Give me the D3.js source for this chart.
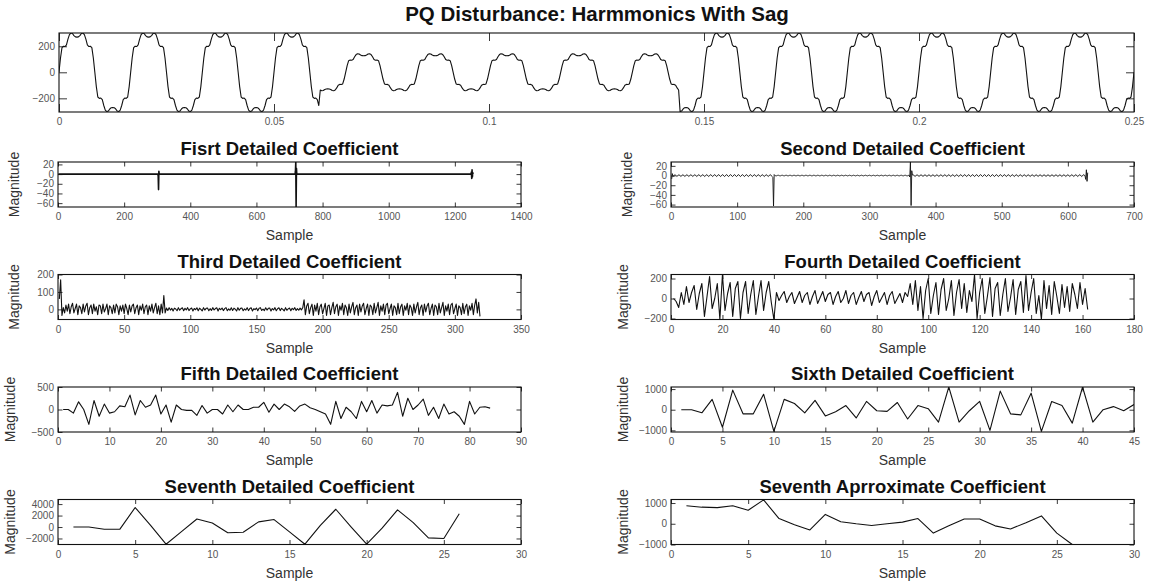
<!DOCTYPE html>
<html>
<head>
<meta charset="utf-8">
<script src="https://cdn.jsdelivr.net/npm/d3@7/dist/d3.min.js"></script>
<style>
  html, body { margin: 0; padding: 0; background: #fff; }
  svg { display: block; font-family: "Liberation Sans", Arial, Helvetica, sans-serif; }
</style>
</head>
<body>
<script>
// ---------------- DATA ----------------
// Top signal: one half-cycle of the harmonic waveform (every 7.5 deg), 60 Hz
const waveHalfCycle = [0,110,190,200,198,210,255,290,302,298,282,272,270,272,282,298,302,290,255,210,198,200,190,110];
const waveFrequency = 60;          // Hz
const waveDuration = 0.25;         // s
const sagWindow = [0.0605, 0.1443];// s
const sagRetained = 0.47;          // fraction of amplitude during sag
const topXTicks = [0, 0.05, 0.1, 0.15, 0.2, 0.25];
const topXTickLabels = ["0", "0.05", "0.1", "0.15", "0.2", "0.25"];
const topYTicks = [-200, 0, 200];

// D1: essentially zero except transients (sample, value)
const d1Points = [[1,0],[302,0],[303,-4],[304,-32],[305,6],[306,0],[717,0],[718,6],[719,25],[720,-68],[721,12],[722,0],[1249,0],[1250,4],[1251,-9],[1252,9],[1253,-6],[1254,3],[1255,0]];
// D2: small ripple (read pattern), transients
const d2RipplePattern = [2,1,-1,-2,-1,1];
const d2Length = 630;
const d2SagRange = [155, 362];
const d2SagRipple = 0.35;
const d2Transients = [[1,-7],[2,4],[154,-4],[155,-63],[156,2],[361,-3],[362,28],[363,-62],[364,10],[627,-8],[628,12],[629,-12],[630,6]];

// D3
const d3Values = [60,170,-35,10,-20,25,-10,30,-25,15,35,-20,5,30,-30,20,10,-25,30,-15,20,35,-30,10,25,-25,30,-10,15,-30,25,20,-25,30,-15,5,30,-30,20,10,-25,25,-20,30,15,-30,20,-10,25,-25,30,5,-30,25,-15,20,30,-25,10,25,-30,20,-5,30,-25,15,25,-30,20,-10,30,-20,10,35,-25,20,-30,30,-20,
80,-20,
8,-6,10,-4,6,-9,7,2,-8,10,-5,4,9,-8,6,-3,10,-7,3,8,-9,5,-2,9,-8,7,0,-9,10,-4,6,8,-8,4,-6,10,-3,5,9,-9,6,-2,8,-7,4,10,-8,3,-5,9,-6,7,1,-9,10,-5,6,8,-8,3,-4,10,-7,5,9,-9,4,-1,8,-8,7,10,-6,2,-7,9,-4,6,8,-9,5,-3,10,-8,4,9,-7,6,0,-9,10,-5,3,8,-8,6,-2,10,-6,4,-5,7,-3,9,
55,-30,
20,35,-25,10,30,-35,25,-10,35,-30,15,30,-25,5,35,-35,20,25,-30,10,40,-25,15,30,-35,20,-5,35,-30,25,10,-35,30,-20,15,40,-30,10,25,-35,30,-15,20,35,-30,5,30,-35,25,15,-30,35,-20,10,40,-35,20,-10,30,-30,25,35,-25,5,30,-35,20,10,-30,35,-25,15,30,-35,20,-5,35,-30,25,10,-35,30,-20,15,40,-30,10,25,-35,30,-15,20,35,-30,5,30,-35,25,15,-30,35,-20,10,40,-35,20,-10,30,-30,25,35,-25,5,30,-35,20,10,-30,35,-25,15,30,-35,20,-5,35,-30,25,60,-20,40,-40];

// D4
const d4Values = [0,-30,-90,60,-60,120,-40,60,130,-110,50,150,-180,20,220,-100,0,150,-210,240,-120,50,160,-180,100,170,-200,60,170,-150,40,180,-160,20,180,-120,60,170,-40,-210,
60,-20,30,70,-40,20,60,-50,10,70,-40,30,60,-60,20,80,-50,10,70,-30,40,60,-60,20,70,-40,0,80,-50,30,60,-60,10,70,-30,40,60,-70,20,80,-40,10,60,-60,30,70,-50,0,50,-40,60,20,
150,-60,180,-120,120,-200,80,200,-150,30,160,-160,90,200,-120,0,180,-170,60,190,-100,150,-140,80,-30,240,-200,60,200,-150,20,210,-180,100,160,-170,40,200,-130,10,190,-160,90,170,-140,230,-120,60,200,-150,30,-210,180,-100,130,-160,170,20,-150,140,-90,120,-130,150,40,-100,160,-60,100,-110];

// D5
const d5Values = [0,0,-80,170,0,-330,200,-150,120,-80,-50,80,60,320,-120,200,50,100,320,-100,100,-280,100,0,-20,-20,-130,90,-80,0,0,-100,100,-50,100,0,0,50,50,160,-60,120,0,120,60,-40,80,120,40,0,-50,-100,-330,180,-200,50,-50,-200,180,-50,200,-80,100,80,100,380,-150,250,0,100,230,-130,50,-200,120,-100,-50,-150,-330,180,-100,50,60,30];
// D6
const d6Values = [0,0,-150,500,-850,950,-200,-200,750,-1050,500,300,-150,450,-300,-100,200,-400,400,-50,-80,350,-450,200,50,-600,1100,-600,-50,400,-1000,900,-200,-250,800,-1050,400,200,-650,1100,-600,0,150,-50,250];
// D7
const d7Values = [0,0,-400,-400,3400,300,-3000,-800,1400,700,-1000,-900,900,1300,-850,-3000,300,3100,0,-3000,-200,3000,800,-1900,-2000,2300];
// A7
const a7Values = [870,800,780,870,650,1150,250,-50,-300,450,100,0,-80,0,80,250,-450,-100,230,230,-100,-250,50,380,-450,-1000];

const titles = ["Fisrt Detailed Coefficient","Second Detailed Coefficient","Third Detailed Coefficient","Fourth Detailed Coefficient","Fifth Detailed Coefficient","Sixth Detailed Coefficient","Seventh Detailed Coefficient","Seventh Aprroximate Coefficient"];

// ---------------- BUILD SERIES ----------------
const perCycle = waveHalfCycle.length * 2;
const waveCycle = waveHalfCycle.concat(waveHalfCycle.map(v => -v));
const nTop = Math.round(waveDuration * waveFrequency * perCycle);
const topSeries = [];
for (let i = 0; i <= nTop; i++) {
  const t = i / (waveFrequency * perCycle);
  const base = waveCycle[i % perCycle];
  const k = (t >= sagWindow[0] && t < sagWindow[1]) ? sagRetained : 1;
  topSeries.push([t, base * k]);
}
const d2Series = [];
const trMap = new Map(d2Transients);
for (let i = 1; i <= d2Length; i++) {
  let v = d2RipplePattern[i % d2RipplePattern.length];
  if (i > d2SagRange[0] && i < d2SagRange[1]) v *= d2SagRipple;
  if (trMap.has(i)) v = trMap.get(i);
  d2Series.push([i, v]);
}
const idx = arr => arr.map((v, i) => [i + 1, v]);

// ---------------- DRAW ----------------
const W = 1154, H = 587;
const svg = d3.select("body").append("svg").attr("width", W).attr("height", H);
let clipId = 0;

function panel(o) {
  const g = svg.append("g");
  const x = d3.scaleLinear().domain(o.xDomain).range([o.x0, o.x1]);
  const y = d3.scaleLinear().domain(o.yDomain).range([o.y1, o.y0]);
  const tl = o.tickLen || 4.5;
  const cid = "clip" + (clipId++);
  svg.append("clipPath").attr("id", cid).append("rect")
    .attr("x", o.x0).attr("y", o.y0).attr("width", o.x1 - o.x0).attr("height", o.y1 - o.y0);

  const styleAxis = sel => {
    sel.select(".domain").remove();
    sel.selectAll(".tick line").attr("stroke", "#222").attr("stroke-width", 0.9);
    sel.selectAll(".tick text").attr("fill", "#555").style("font-size", "10px")
      .style("font-family", '"Liberation Sans", Arial, sans-serif');
  };
  const fmt = o.xFmt ? ((d, i) => o.xFmt[i]) : d3.format("d");
  g.append("g").attr("transform", `translate(0,${o.y1})`)
    .call(d3.axisBottom(x).tickValues(o.xTicks).tickSize(-tl).tickPadding(6).tickFormat(fmt)).call(styleAxis);
  g.append("g").attr("transform", `translate(0,${o.y0})`)
    .call(d3.axisTop(x).tickValues(o.xTicks).tickSize(-tl).tickFormat("")).call(styleAxis);
  const yAx = g.append("g").attr("transform", `translate(${o.x0},0)`)
    .call(d3.axisLeft(y).tickValues(o.yTicks).tickSize(-tl).tickPadding(4).tickFormat(d3.format("d"))).call(styleAxis);
  g.append("g").attr("transform", `translate(${o.x1},0)`)
    .call(d3.axisRight(y).tickValues(o.yTicks).tickSize(-tl).tickFormat("")).call(styleAxis);

  g.append("path").datum(o.data)
    .attr("clip-path", `url(#${cid})`)
    .attr("fill", "none").attr("stroke", "#111").attr("stroke-width", o.lw || 1.1)
    .attr("stroke-linejoin", "round")
    .attr("d", d3.line().x(d => x(d[0])).y(d => y(d[1])));

  g.append("rect").attr("x", o.x0).attr("y", o.y0).attr("width", o.x1 - o.x0).attr("height", o.y1 - o.y0)
    .attr("fill", "none").attr("stroke", "#111").attr("stroke-width", 1.1);

  if (o.title) {
    g.append("text").attr("x", (o.x0 + o.x1) / 2).attr("y", o.y0 - 7)
      .attr("text-anchor", "middle").style("font-size", "18.5px").style("font-weight", "bold").attr("fill", "#111")
      .text(o.title);
  }
  if (o.xlabel) {
    g.append("text").attr("x", (o.x0 + o.x1) / 2).attr("y", o.y1 + 33)
      .attr("text-anchor", "middle").style("font-size", "14px").attr("fill", "#333").text(o.xlabel);
  }
  if (o.ylabel) {
    let maxW = 0;
    yAx.selectAll(".tick text").each(function () { maxW = Math.max(maxW, this.getComputedTextLength()); });
    const lx = o.x0 - 39 - (maxW > 20 ? 4 : 0);
    g.append("text").attr("transform", `translate(${lx},${(o.y0 + o.y1) / 2}) rotate(-90)`)
      .attr("text-anchor", "middle").style("font-size", "14px").attr("fill", "#333").text(o.ylabel);
  }
}

// Main title
svg.append("text").attr("x", 597).attr("y", 21).attr("text-anchor", "middle")
  .style("font-size", "20.5px").style("font-weight", "bold").attr("fill", "#111")
  .text("PQ Disturbance: Harmmonics With Sag");

panel({x0: 59, x1: 1134, y0: 33, y1: 112, xDomain: [0, 0.25], yDomain: [-305, 302],
  xTicks: topXTicks, xFmt: topXTickLabels, yTicks: topYTicks, data: topSeries, tickLen: 8});

const L = [58, 521], R = [671, 1134];
const rowTop = k => 162 + 112.5 * k;
const bh = 45;
const specs = [
  {col: L, row: 0, xDomain: [0, 1400], xTicks: d3.range(0, 1401, 200), yDomain: [-68, 25], yTicks: [-60,-40,-20,0,20], data: d1Points, lw: 1.6},
  {col: R, row: 0, xDomain: [0, 700], xTicks: d3.range(0, 701, 100), yDomain: [-65, 28], yTicks: [-60,-40,-20,0,20], data: d2Series, lw: 0.9},
  {col: L, row: 1, xDomain: [0, 350], xTicks: d3.range(0, 351, 50), yDomain: [-58, 200], yTicks: [0,100,200], data: idx(d3Values)},
  {col: R, row: 1, xDomain: [0, 180], xTicks: d3.range(0, 181, 20), yDomain: [-210, 240], yTicks: [-200,0,200], data: idx(d4Values)},
  {col: L, row: 2, xDomain: [0, 90], xTicks: d3.range(0, 91, 10), yDomain: [-500, 500], yTicks: [-500,0,500], data: idx(d5Values)},
  {col: R, row: 2, xDomain: [0, 45], xTicks: d3.range(0, 46, 5), yDomain: [-1080, 1100], yTicks: [-1000,0,1000], data: idx(d6Values)},
  {col: L, row: 3, xDomain: [0, 30], xTicks: d3.range(0, 31, 5), yDomain: [-3050, 4800], yTicks: [-2000,0,2000,4000], data: idx(d7Values)},
  {col: R, row: 3, xDomain: [0, 30], xTicks: d3.range(0, 31, 5), yDomain: [-1000, 1170], yTicks: [-1000,0,1000], data: idx(a7Values)}
];
specs.forEach((s, i) => {
  panel({x0: s.col[0], x1: s.col[1], y0: rowTop(s.row), y1: rowTop(s.row) + bh,
    xDomain: s.xDomain, xTicks: s.xTicks, yDomain: s.yDomain, yTicks: s.yTicks, data: s.data, lw: s.lw,
    title: titles[i], xlabel: "Sample", ylabel: "Magnitude"});
});
</script>
</body>
</html>
